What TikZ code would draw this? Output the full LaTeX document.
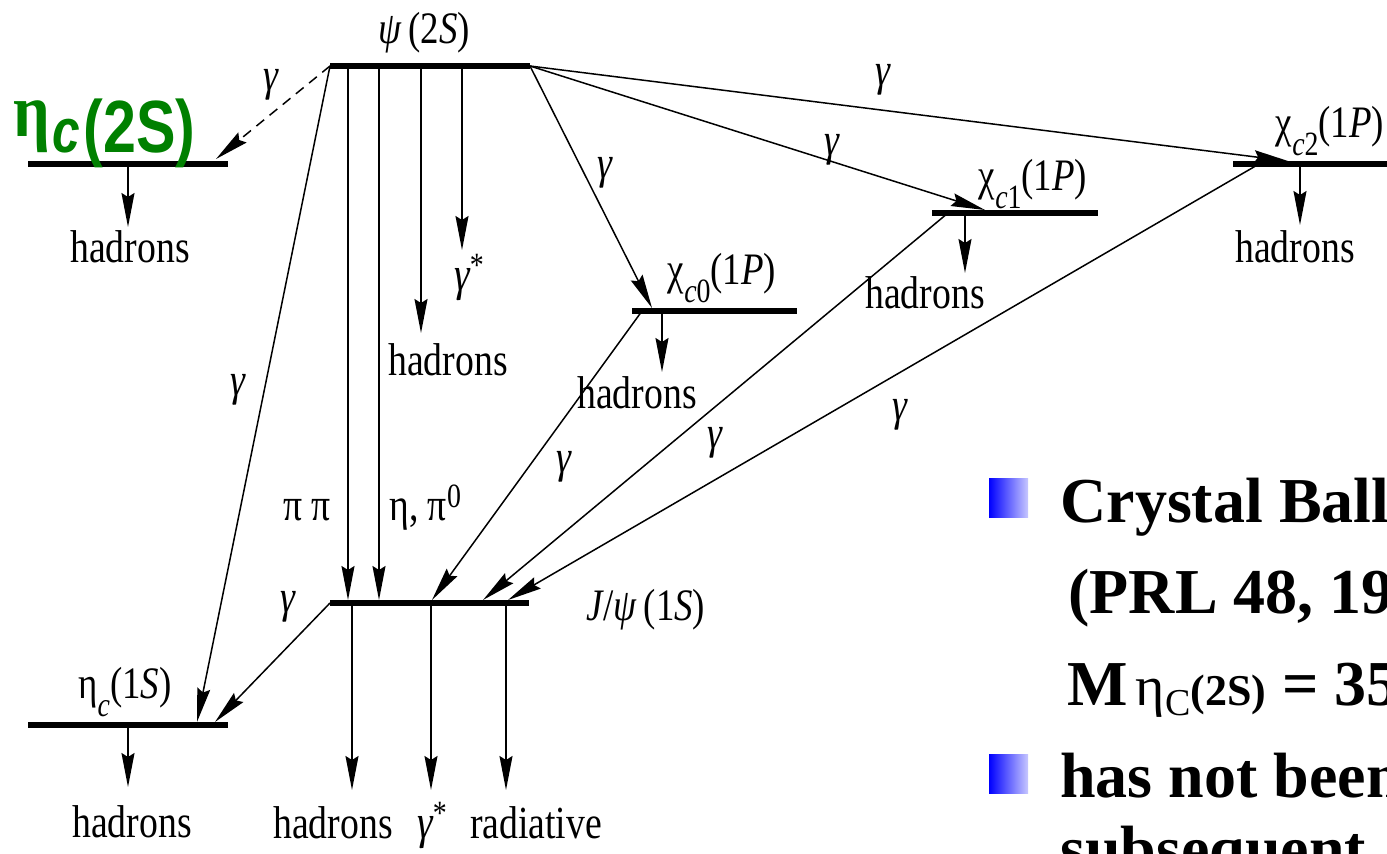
\documentclass[tikz,border=0pt]{standalone}
\usepackage{fontspec}
\setmainfont{Liberation Serif}
\newfontfamily\cond[FakeStretch=0.82]{Liberation Serif}
\newfontfamily\gsans[FakeStretch=0.8]{Liberation Sans}
\newfontfamily\gserif[FakeStretch=0.85]{Liberation Serif}
\usetikzlibrary{arrows.meta}
\definecolor{statgreen}{RGB}{0,128,0}

\tikzset{
  bar/.style={line width=2.8pt},
  decay/.style={line width=0.75pt,-{Stealth[length=17pt,width=6.5pt,inset=2pt]}},
  hyp/.style={decay,dash pattern=on 5pt off 3.5pt},
  lab/.style={font=\cond\fontsize{22.5}{26}\selectfont,inner sep=0pt,anchor=base},
  hadr/.style={font=\cond\fontsize{23}{27}\selectfont,inner sep=0pt,anchor=base},
  gam/.style={font=\cond\itshape\fontsize{23}{26}\selectfont,inner sep=0pt},
  bul/.style={font=\bfseries\fontsize{32}{38}\selectfont,inner sep=0pt,anchor=base west},
  bulletsq/.style={left color=blue,right color=blue!22}
}

% lowered subscript and raised superscript for the state labels
\newcommand\sbs[1]{\raisebox{-0.42em}{\fontsize{17}{19}\selectfont #1}}
\newcommand\sps[1]{\raisebox{0.28em}{\fontsize{17}{19}\selectfont #1}}

\begin{document}
\begin{tikzpicture}[x=0.5pt,y=-0.5pt]
\useasboundingbox (0,0) rectangle (1387,853);
\clip (0,0) rectangle (1387,853);

% ---- level end points
\coordinate (psiL) at (330,66);  \coordinate (psiR) at (530,66);
\coordinate (etbL) at (28,164);  \coordinate (etbR) at (228,164);
\coordinate (c0L)  at (632,311); \coordinate (c0R)  at (797,311);
\coordinate (c1L)  at (932,213); \coordinate (c1R)  at (1098,213);
\coordinate (c2L)  at (1233,164); \coordinate (c2R) at (1395,164);
\coordinate (jpL)  at (330,603); \coordinate (jpR)  at (529,603);
\coordinate (etaL) at (28,725);  \coordinate (etaR) at (228,725);

% ---- levels
\draw[bar] (psiL) -- (psiR);
\draw[bar] (etbL) -- (etbR);
\draw[bar] (c0L) -- (c0R);
\draw[bar] (c1L) -- (c1R);
\draw[bar] (c2L) -- (c2R);
\draw[bar] (jpL) -- (jpR);
\draw[bar] (etaL) -- (etaR);

% ---- state labels
\node[lab] (psiLab) at (424,43) {{\itshape ψ}\,(2{\itshape S})};
\node[inner sep=0pt,anchor=base west,text=statgreen] (etbLab) at (13,152)
  {\raisebox{8pt}{\gserif\bfseries\fontsize{38}{40}\selectfont η}\kern1pt%
   {\gsans\bfseries\itshape\fontsize{31}{34}\selectfont c}\kern2pt%
   {\gsans\bfseries\fontsize{37}{42}\selectfont(2S)}};
\node[lab] (c0Lab) at (722,284) {χ\sbs{{\itshape c}0}(1{\itshape P})};
\node[lab] (c1Lab) at (1033,190) {χ\sbs{{\itshape c}1}(1{\itshape P})};
\node[lab] (c2Lab) at (1330,137) {χ\sbs{{\itshape c}2}(1{\itshape P})};
\node[lab] (jpLab) at (646,620) {{\itshape J}/{\itshape ψ}\,(1{\itshape S})};
\node[lab] (etaLab) at (125,698) {η\sbs{\itshape c}(1{\itshape S})};

% ---- decay products
\node[hadr] (hEtb) at (130,262) {hadrons};
\node[hadr] (hPsi) at (448,375) {hadrons};
\node[hadr,font=\cond\itshape\fontsize{24}{27}\selectfont] (gPsi) at (469,290) {γ\sps{\upshape *}};
\node[hadr] (hC0) at (637,408) {hadrons};
\node[hadr] (hC1) at (925,308) {hadrons};
\node[hadr] (hC2) at (1295,262) {hadrons};
\node[hadr] (hEta) at (132,837) {hadrons};
\node[hadr] (hJp) at (333,838) {hadrons};
\node[hadr,font=\cond\itshape\fontsize{24}{27}\selectfont] (gJp) at (432,838) {γ\sps{\upshape *}};
\node[hadr] (rJp) at (536,838) {radiative};
\node[hadr] (pipi) at (307,520) {π π};
\node[hadr,anchor=base west] (etapi) at (389,520) {η, π\sps{0}};

% ---- photon labels
\node[gam] (g1) at (271,85) {γ};
\node[gam] (g2) at (238,390) {γ};
\node[gam] (g3) at (605,173) {γ};
\node[gam] (g4) at (832,150) {γ};
\node[gam] (g5) at (883,80) {γ};
\node[gam] (g6) at (564,467) {γ};
\node[gam] (g7) at (715,443) {γ};
\node[gam] (g8) at (900,415) {γ};
\node[gam] (g9) at (288,607) {γ};

% ---- transition end points
\coordinate (aEtb) at (216,159);
\coordinate (aEta1) at (197,722);
\coordinate (sPP) at (348,66);  \coordinate (ePP) at (348,600);
\coordinate (sEP) at (379,66);  \coordinate (eEP) at (379,600);
\coordinate (sHP) at (421,66);  \coordinate (eHP) at (421,333);
\coordinate (sGP) at (462,66);  \coordinate (eGP) at (462,250);
\coordinate (aC0) at (652,308);
\coordinate (aC1) at (985,210);
\coordinate (aC2) at (1288,161);
\coordinate (sH0) at (662,311);  \coordinate (eH0) at (662,372);
\coordinate (sH1) at (965,213);  \coordinate (eH1) at (965,273);
\coordinate (sH2) at (1300,164); \coordinate (eH2) at (1300,225);
\coordinate (sHb) at (128,164);  \coordinate (eHb) at (128,227);
\coordinate (sHe) at (128,725);  \coordinate (eHe) at (128,787);
\coordinate (sJ1) at (352,603);  \coordinate (eJ1) at (352,790);
\coordinate (sJ2) at (431,603);  \coordinate (eJ2) at (431,790);
\coordinate (sJ3) at (506,603);  \coordinate (eJ3) at (506,790);
\coordinate (s0J) at (642,311);  \coordinate (a0J) at (432,600);
\coordinate (s1J) at (948,213);  \coordinate (a1J) at (483,600);
\coordinate (s2J) at (1259,164); \coordinate (a2J) at (508,600);
\coordinate (aJE) at (215,722);

% ---- transitions
\draw[hyp] (psiL) -- (aEtb);
\draw[decay] (psiL) -- (aEta1);
\draw[decay] (sPP) -- (ePP);
\draw[decay] (sEP) -- (eEP);
\draw[decay] (sHP) -- (eHP);
\draw[decay] (sGP) -- (eGP);
\draw[decay] (psiR) -- (aC0);
\draw[decay] (psiR) -- (aC1);
\draw[decay] (psiR) -- (aC2);
\draw[decay] (sH0) -- (eH0);
\draw[decay] (sH1) -- (eH1);
\draw[decay] (sH2) -- (eH2);
\draw[decay] (sHb) -- (eHb);
\draw[decay] (sHe) -- (eHe);
\draw[decay] (sJ1) -- (eJ1);
\draw[decay] (sJ2) -- (eJ2);
\draw[decay] (sJ3) -- (eJ3);
\draw[decay] (s0J) -- (a0J);
\draw[decay] (s1J) -- (a1J);
\draw[decay] (s2J) -- (a2J);
\draw[decay] (jpL) -- (aJE);

% ---- bullet text
\shade[bulletsq] (989,478) rectangle (1028,517);
\shade[bulletsq] (989,754) rectangle (1028,793);
\node[bul] (t1) at (1060,522) {Crystal Ball};
\node[bul] (t2) at (1068,613) {(PRL 48, 19};
\node[bul] (t3) at (1067,705) {M\kern4pt{\mdseries\fontsize{28}{30}\selectfont η\raisebox{-5pt}{\fontsize{19}{22}\selectfont C}}{\fontsize{22}{24}\selectfont(2S)} = 35};
\node[bul] (t4) at (1060,797) {has not been};
\node[bul] (t5) at (1060,870) {subsequent};
\end{tikzpicture}
\end{document}
